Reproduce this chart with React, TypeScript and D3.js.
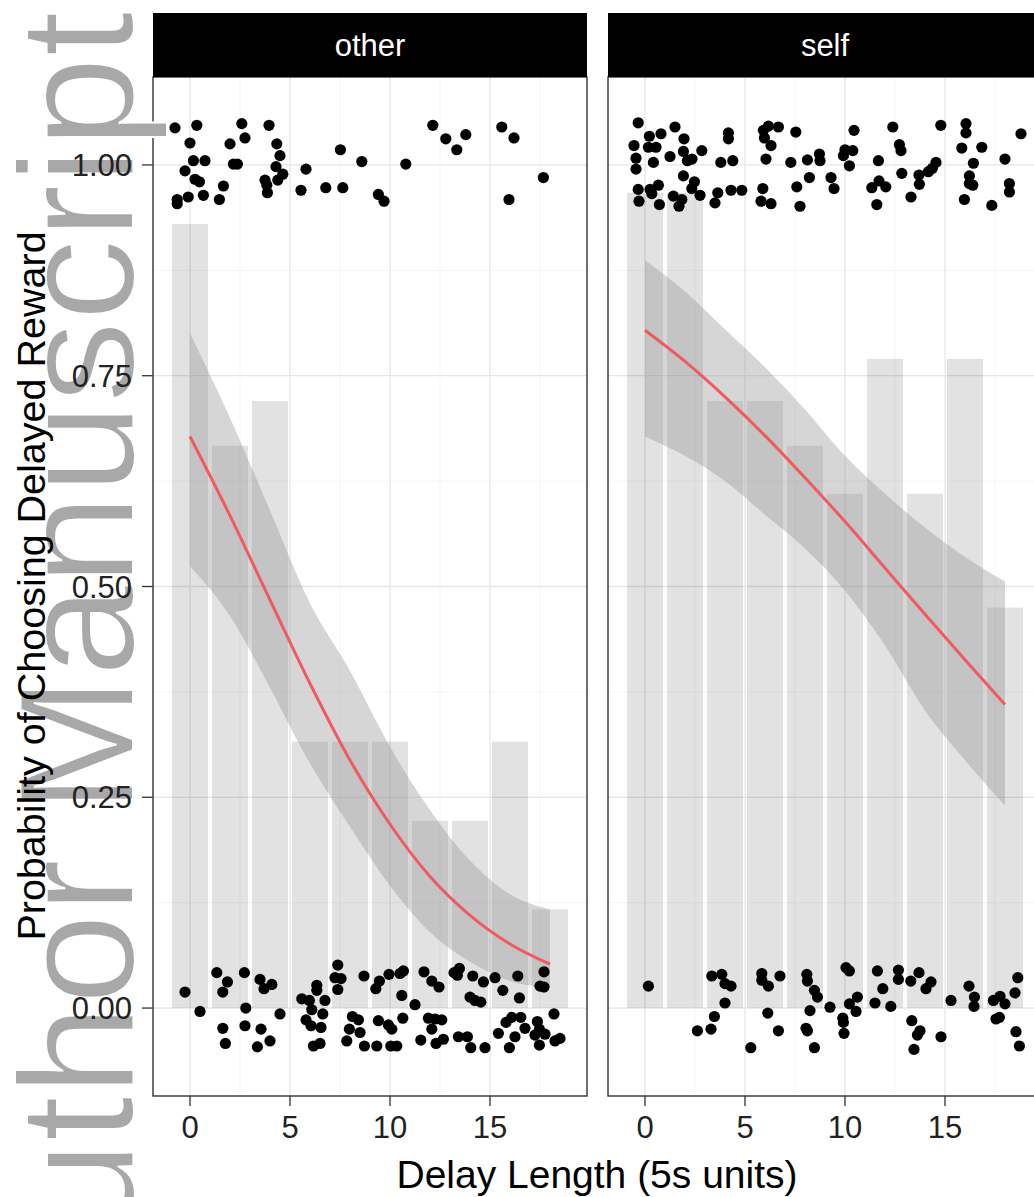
import React from 'react';
import * as d3 from 'd3';

// delays (5s units) at which choices were offered
const delays = [0, 2, 4, 6, 8, 10, 12, 14, 16, 18];
const facetNames = ['other', 'self'];

// observed proportion choosing the delayed reward
const otherProps = [0.93, 0.667, 0.72, 0.316, 0.316, 0.316, 0.222, 0.222, 0.316, 0.117];
const selfProps = [0.967, 0.967, 0.72, 0.72, 0.667, 0.61, 0.77, 0.61, 0.77, 0.475];

// logistic fit with 95% band, read at each delay
const otherFit = [0.678, 0.584, 0.484, 0.385, 0.294, 0.218, 0.156, 0.11, 0.076, 0.052];
const otherUpper = [0.8, 0.7, 0.59, 0.48, 0.4, 0.31, 0.235, 0.175, 0.135, 0.117];
const otherLower = [0.524, 0.465, 0.38, 0.29, 0.215, 0.145, 0.09, 0.055, 0.032, 0.024];
const selfFit = [0.804, 0.767, 0.725, 0.679, 0.629, 0.577, 0.522, 0.467, 0.413, 0.36];
const selfUpper = [0.887, 0.85, 0.805, 0.76, 0.71, 0.655, 0.61, 0.57, 0.535, 0.506];
const selfLower = [0.678, 0.655, 0.625, 0.585, 0.545, 0.495, 0.43, 0.353, 0.294, 0.24];

// jittered raw choices [delay, choice]
const otherPoints = [
  [-0.75, 1.044], [0.34, 1.047], [0, 1.026], [0.17, 1.005], [0.75, 1.005], [-0.25, 0.993], [0.25, 0.983],
  [0.47, 0.98], [-0.09, 0.962], [-0.64, 0.959], [-0.64, 0.954], [0.67, 0.964], [1.47, 0.959], [1.67, 0.975],
  [2, 1.025], [2.17, 1.001], [2.37, 1.001], [2.59, 1.049], [2.75, 1.032], [3.95, 1.047], [4.34, 1.025],
  [4.5, 1.011], [4.3, 0.998], [4.64, 0.989], [4.39, 0.982], [3.75, 0.982], [3.84, 0.976], [3.87, 0.967],
  [5.8, 0.995], [5.55, 0.97], [6.79, 0.973], [7.64, 0.973], [7.52, 1.018], [8.59, 1.004], [9.42, 0.965],
  [9.7, 0.957], [10.79, 1.001], [12.14, 1.047], [12.79, 1.031], [13.34, 1.018], [13.79, 1.036],
  [15.59, 1.045], [16.2, 1.032], [15.95, 0.959], [17.67, 0.985],
  [-0.25, 0.019], [1.34, 0.042], [1.87, 0.031], [1.64, 0.019], [2.72, 0.042], [3.5, 0.034], [4.09, 0.028],
  [3.7, 0.023], [6.34, 0.027], [6.34, 0.021], [5.59, 0.011], [5.97, 0.009], [6.75, 0.009], [7.39, 0.051],
  [7.25, 0.036], [7.55, 0.035], [7.39, 0.022], [8.7, 0.038], [9.47, 0.032], [9.29, 0.023], [9.95, 0.04],
  [10.5, 0.041], [10.67, 0.044], [10.59, 0.015], [11.25, 0.004], [11.7, 0.043], [12.09, 0.032],
  [12.45, 0.025], [13.2, 0.042], [13.47, 0.047], [13.37, 0.039], [14.14, 0.038], [14.67, 0.031],
  [14, 0.013], [14.25, 0.009], [14.54, 0.007], [15.25, 0.036], [15.64, 0.021], [16.39, 0.038],
  [16.47, 0.012], [17.7, 0.043], [17.5, 0.026], [17.7, 0.025],
  [0.5, -0.004], [1.64, -0.024], [1.77, -0.042], [2.79, 0], [2.75, -0.021], [3.55, -0.025], [3.37, -0.046],
  [4, -0.039], [4.5, -0.007], [6.09, -0.002], [6.64, -0.007], [5.8, -0.014], [6.05, -0.021], [6.55, -0.023],
  [6.17, -0.045], [6.5, -0.042], [8.12, -0.01], [8.42, -0.014], [7.97, -0.025], [8.5, -0.029],
  [7.84, -0.039], [8.72, -0.045], [9.34, -0.045], [9.42, -0.015], [9.92, -0.02], [10.09, -0.025],
  [10.04, -0.045], [10.34, -0.045], [10.64, -0.012], [11.92, -0.012], [12.25, -0.013], [12.59, -0.014],
  [12.09, -0.025], [11.54, -0.038], [12.3, -0.042], [12.67, -0.037], [13.42, -0.034], [13.87, -0.034],
  [14.04, -0.047], [14.75, -0.047], [15.42, -0.03], [15.8, -0.017], [16.09, -0.011], [16.54, -0.011],
  [16.25, -0.034], [15.97, -0.047], [16.75, -0.024], [17.37, -0.016], [17.47, -0.025], [17.25, -0.032],
  [17.75, -0.031], [18.2, -0.007], [17.47, -0.044], [18.25, -0.039], [18.5, -0.036],
];

const selfPoints = [
  [-0.34, 1.05], [0.22, 1.034], [0.8, 1.037], [1.5, 1.045], [-0.55, 1.023], [0.17, 1.021], [0.55, 1.021],
  [1.95, 1.031], [-0.45, 1.008], [0.42, 1.003], [1.25, 1.01], [1.92, 1.016], [2.12, 1.005], [2.35, 1.007],
  [2.84, 1.017], [-0.45, 0.995], [1.92, 0.987], [-0.34, 0.971], [0.25, 0.971], [0.67, 0.976], [0.34, 0.966],
  [-0.3, 0.957], [0.72, 0.953], [1.42, 0.963], [1.84, 0.959], [1.7, 0.951], [2.47, 0.98], [2.34, 0.972],
  [2.75, 0.964], [3.5, 0.955], [3.64, 0.967], [3.79, 1.003], [4.39, 1.005], [4.17, 1.038], [4.17, 1.031],
  [4.3, 0.97], [4.84, 0.97], [5.92, 1.041], [6.17, 1.046], [6.67, 1.045], [5.97, 1.032], [6.3, 1.023],
  [6.05, 1.007], [7.54, 1.039], [5.89, 0.972], [5.8, 0.957], [6.3, 0.954], [7.29, 1.003], [8.12, 1.006],
  [7.59, 0.974], [8.22, 0.985], [7.75, 0.951], [8.72, 1.013], [8.75, 1.005], [9.3, 0.985], [9.45, 0.972],
  [10, 1.018], [9.92, 1.011], [10.39, 1.017], [10.45, 1.041], [10.22, 0.999], [11.67, 1.005], [11.7, 0.981],
  [12.04, 0.974], [11.34, 0.973], [11.59, 0.953], [12.39, 1.045], [12.72, 1.024], [12.8, 1.017],
  [12.84, 0.99], [13.7, 0.988], [13.72, 0.977], [14.17, 0.992], [14.37, 0.996], [14.55, 1.003], [13.3, 0.962],
  [14.79, 1.047], [16.05, 1.049], [16.05, 1.038], [15.84, 1.02], [16.84, 1.021], [16.42, 1.002],
  [16.22, 0.987], [16.22, 0.978], [16.39, 0.976], [15.97, 0.959], [17.34, 0.952], [18, 1.007],
  [18.22, 0.978], [18.22, 0.968], [18.8, 1.037],
  [0.17, 0.026], [3.34, 0.038], [3.84, 0.04], [4, 0.029], [4.3, 0.026], [4, 0.006], [3.47, -0.01],
  [3.3, -0.025], [2.62, -0.027], [5.84, 0.041], [5.84, 0.033], [6.17, 0.026], [6.75, 0.038], [6.14, -0.006],
  [6.67, -0.027], [5.29, -0.047], [8.09, 0.04], [8.12, 0.032], [8.47, 0.021], [8.62, 0.013], [8.25, -0.003],
  [8.05, -0.024], [8.12, -0.027], [8.47, -0.047], [9.25, 0.001], [9.89, -0.012], [9.92, -0.017],
  [9.95, -0.03], [10.05, 0.048], [10.22, 0.044], [10.62, 0.013], [10.22, 0.005], [10.55, -0.004],
  [11.62, 0.044], [11.89, 0.023], [11.5, 0.006], [12.29, 0.002], [12.67, 0.045], [12.67, 0.034],
  [13.29, 0.032], [13.7, 0.042], [14.3, 0.031], [14.05, 0.023], [13.34, -0.015], [13.75, -0.027],
  [13.62, -0.032], [13.45, -0.049], [14.8, -0.034], [15.3, 0.009], [16.2, 0.026], [16.47, 0.013],
  [16.45, 0.002], [17.42, 0.009], [17.75, 0.014], [18, 0.005], [17.55, -0.013], [17.72, -0.011],
  [18.64, 0.036], [18.5, 0.018], [18.55, -0.028], [18.72, -0.045],
];

const xTicks = [0, 5, 10, 15];
const xMinor = [2.5, 7.5, 12.5, 17.5];
const yTicks = [0, 0.25, 0.5, 0.75, 1];
const yMinor = [0.125, 0.375, 0.625, 0.875];

const panelData = [
  { name: facetNames[0], props: otherProps, fit: otherFit, upper: otherUpper, lower: otherLower, points: otherPoints },
  { name: facetNames[1], props: selfProps, fit: selfFit, upper: selfUpper, lower: selfLower, points: selfPoints },
];

const FONT = '"Liberation Sans", Arial, Helvetica, sans-serif';
const panelLeft = [153, 608];
const panelWidth = 434;
const panelTop = 77;
const panelBottom = 1096;
const stripTop = 13;

const y = d3.scaleLinear().domain([-0.1043, 1.1043]).range([panelBottom, panelTop]);

function Panel({ d, left, idx }) {
  const x = d3.scaleLinear().domain([-1.85, 19.85]).range([left, left + panelWidth]);
  const band = d3
    .area()
    .x((_, i) => x(delays[i]))
    .y0((v) => y(v))
    .y1((_, i) => y(d.upper[i]))
    .curve(d3.curveMonotoneX);
  const line = d3
    .line()
    .x((_, i) => x(delays[i]))
    .y((v) => y(v))
    .curve(d3.curveMonotoneX);
  const right = left + panelWidth;
  return (
    <g>
      <clipPath id={`clip-${idx}`}>
        <rect x={left} y={panelTop} width={panelWidth} height={panelBottom - panelTop} />
      </clipPath>
      <g clipPath={`url(#clip-${idx})`}>
        {yMinor.map((t) => (
          <line key={'ym' + t} x1={left} x2={right} y1={y(t)} y2={y(t)} stroke="#f3f3f3" strokeWidth={0.8} />
        ))}
        {xMinor.map((t) => (
          <line key={'xm' + t} x1={x(t)} x2={x(t)} y1={panelTop} y2={panelBottom} stroke="#f3f3f3" strokeWidth={0.8} />
        ))}
        {yTicks.map((t) => (
          <line key={'y' + t} x1={left} x2={right} y1={y(t)} y2={y(t)} stroke="#e6e6e6" strokeWidth={1.3} />
        ))}
        {xTicks.map((t) => (
          <line key={'x' + t} x1={x(t)} x2={x(t)} y1={panelTop} y2={panelBottom} stroke="#e6e6e6" strokeWidth={1.3} />
        ))}
        {delays.map((dl, i) => (
          <rect
            key={'b' + dl}
            x={x(dl - 0.9)}
            width={x(dl + 0.9) - x(dl - 0.9)}
            y={y(d.props[i])}
            height={y(0) - y(d.props[i])}
            fill="#000"
            fillOpacity={0.115}
          />
        ))}
        <path d={band(d.lower)} fill="#999999" fillOpacity={0.4} />
        {d.points.map((p, i) => (
          <circle key={'p' + i} cx={x(p[0])} cy={y(p[1])} r={5.6} fill="#000" />
        ))}
        <path d={line(d.fit)} fill="none" stroke="#f05a60" strokeWidth={3} />
      </g>
      <rect x={left} y={panelTop} width={panelWidth} height={panelBottom - panelTop} fill="none" stroke="#333" strokeWidth={1.4} />
      <rect x={left} y={stripTop} width={panelWidth} height={panelTop - stripTop} fill="#000" />
      <text x={(left + right) / 2} y={56} textAnchor="middle" fill="#fff" fontSize={31} fontFamily={FONT}>
        {d.name}
      </text>
      {xTicks.map((t) => (
        <g key={'xt' + t}>
          <line x1={x(t)} x2={x(t)} y1={panelBottom} y2={panelBottom + 10} stroke="#333" strokeWidth={1.3} />
          <text x={x(t)} y={1138} textAnchor="middle" fontSize={31} fill="#222" fontFamily={FONT}>
            {t}
          </text>
        </g>
      ))}
    </g>
  );
}

export default function App() {
  return (
    <svg
      width={1034}
      height={1197}
      style={{ position: 'absolute', left: 0, top: 0, display: 'block', background: '#fff' }}
    >
      <rect x={0} y={0} width={1034} height={1197} fill="#fff" />
      {panelData.map((d, i) => (
        <Panel key={d.name} d={d} left={panelLeft[i]} idx={i} />
      ))}
      {/* watermark sits under the axis labels, thinned with a white outline */}
      <text
        transform="translate(133,1342) rotate(-90)"
        fontSize={164}
        fill="#a8a8a8"
        stroke="#fff"
        strokeWidth={2}
        fontFamily={FONT}
      >
        Author Manuscript
      </text>
      {yTicks.map((t) => (
        <g key={'yt' + t}>
          <line x1={142} x2={153} y1={y(t)} y2={y(t)} stroke="#333" strokeWidth={1.3} />
          <text x={132} y={y(t) + 11} textAnchor="end" fontSize={31} fill="#222" fontFamily={FONT}>
            {d3.format('.2f')(t)}
          </text>
        </g>
      ))}
      <text
        transform="translate(45,586) rotate(-90)"
        textAnchor="middle"
        fontSize={39.5}
        fill="#000"
        fontFamily={FONT}
      >
        Probability of Choosing Delayed Reward
      </text>
      <text x={597} y={1188} textAnchor="middle" fontSize={39} fill="#000" fontFamily={FONT}>
        Delay Length (5s units)
      </text>
    </svg>
  );
}
